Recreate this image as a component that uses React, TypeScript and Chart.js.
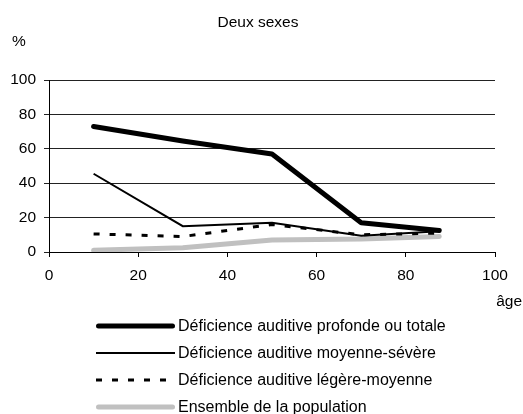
import React, { useEffect, useRef } from "react";
import { Chart, registerables } from "chart.js";

Chart.register(...registerables);

const ages = [10, 30, 50, 70, 87.5];
const profonde = [73, 64.5, 57, 17, 12.5];
const moyenneSevere = [45.5, 15, 17, 9.5, 12];
const legereMoyenne = [10.5, 9, 16, 10, 11];
const ensemble = [1, 2.5, 7, 7.5, 9];

const seriesLabels = [
  "Déficience auditive profonde ou totale",
  "Déficience auditive moyenne-sévère",
  "Déficience auditive légère-moyenne",
  "Ensemble de la population",
];
const xTicks = [0, 20, 40, 60, 80, 100];
const yTicks = [0, 20, 40, 60, 80, 100];
const titleText = "Deux sexes";
const yUnit = "%";
const xUnit = "âge";

const FONT = "'Liberation Sans', Arial, sans-serif";

const pts = (vals: number[]) => vals.map((v, i) => ({ x: ages[i], y: v }));

const textPlugin = {
  id: "textPlugin",
  afterDraw(chart: any) {
    const ctx = chart.ctx as CanvasRenderingContext2D;
    ctx.save();
    ctx.fillStyle = "#000";
    ctx.textBaseline = "middle";
    ctx.font = `15.5px ${FONT}`;
    ctx.textAlign = "center";
    ctx.fillText(titleText, 258, 23);
    ctx.font = `15.5px ${FONT}`;
    ctx.textAlign = "left";
    ctx.fillText(yUnit, 12, 42);
    ctx.textAlign = "right";
    ctx.fillText(xUnit, 522, 302);
    // legend
    ctx.font = `16px ${FONT}`;
    ctx.textAlign = "left";
    chart.data.datasets.forEach((ds: any, i: number) => {
      const y = 326 + i * 27;
      ctx.save();
      ctx.strokeStyle = ds.borderColor;
      ctx.lineWidth = ds.borderWidth;
      ctx.setLineDash(ds.borderDash || []);
      ctx.lineCap = ds.borderCapStyle || "butt";
      ctx.beginPath();
      const x0 = ds.borderCapStyle === "round" ? 96 + ds.borderWidth / 2 : 96;
      const x1 = ds.borderCapStyle === "round" ? 175 - ds.borderWidth / 2 : 175;
      ctx.moveTo(x0, y);
      ctx.lineTo(x1, y);
      ctx.stroke();
      ctx.restore();
      ctx.fillText(ds.label, 178, y + 1);
    });
    ctx.restore();
  },
};

export default function App() {
  const ref = useRef<HTMLCanvasElement>(null);
  useEffect(() => {
    if (!ref.current) return;
    const chart = new Chart(ref.current, {
      type: "scatter",
      data: {
        datasets: [
          {
            label: seriesLabels[0],
            data: pts(profonde),
            showLine: true,
            borderColor: "#000",
            borderWidth: 5,
            borderCapStyle: "round",
            borderJoinStyle: "round",
            pointRadius: 0,
          },
          {
            label: seriesLabels[1],
            data: pts(moyenneSevere),
            showLine: true,
            borderColor: "#000",
            borderWidth: 2,
            pointRadius: 0,
          },
          {
            label: seriesLabels[2],
            data: pts(legereMoyenne),
            showLine: true,
            borderColor: "#000",
            borderWidth: 3,
            borderDash: [6, 10],
            pointRadius: 0,
          },
          {
            label: seriesLabels[3],
            data: pts(ensemble),
            showLine: true,
            borderColor: "#c0c0c0",
            borderWidth: 5,
            borderCapStyle: "round",
            borderJoinStyle: "round",
            pointRadius: 0,
          },
        ] as any,
      },
      options: {
        responsive: false,
        animation: false,
        layout: { padding: { top: 80, right: 28, left: 0, bottom: 0 } },
        plugins: {
          legend: { display: false },
          title: { display: false },
          tooltip: { enabled: false },
        },
        scales: {
          x: {
            type: "linear",
            min: 0,
            max: 100,
            afterFit: (s: any) => {
              s.height = 162;
            },
            afterBuildTicks: (s: any) => {
              s.ticks = xTicks.map((v) => ({ value: v }));
            },
            ticks: {
              color: "#000",
              font: { family: FONT, size: 15.5 },
              padding: 9,
              maxRotation: 0,
            },
            grid: {
              drawOnChartArea: false,
              drawTicks: true,
              tickLength: 5,
              color: "#000",
            },
            border: { display: true, color: "#000", width: 1 },
          },
          y: {
            type: "linear",
            min: 0,
            max: 100,
            afterFit: (s: any) => {
              s.width = 49;
            },
            afterBuildTicks: (s: any) => {
              s.ticks = yTicks.map((v) => ({ value: v }));
            },
            ticks: {
              color: "#000",
              font: { family: FONT, size: 15.5 },
              padding: 8,
            },
            grid: {
              drawTicks: true,
              tickLength: 5,
              color: "#222",
            },
            border: { display: true, color: "#000", width: 1 },
          },
        },
      },
      plugins: [textPlugin],
    });
    return () => chart.destroy();
  }, []);
  return (
    <div style={{ position: "fixed", left: 0, top: 0, width: 523, height: 414, background: "#fff" }}>
      <canvas ref={ref} width={523} height={414} style={{ width: 523, height: 414, display: "block" }} />
    </div>
  );
}
